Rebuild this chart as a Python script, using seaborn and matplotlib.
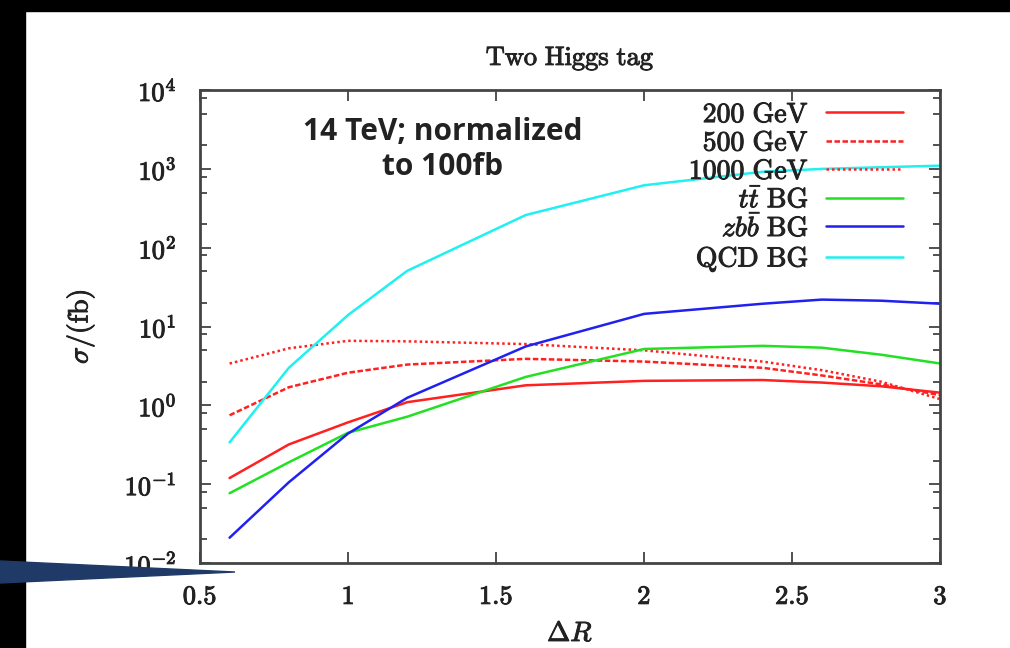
import numpy as np
import pandas as pd
import seaborn as sns
import matplotlib.pyplot as plt
import matplotlib.patheffects as pe
from matplotlib.patches import Rectangle, Polygon
from matplotlib.ticker import LogLocator, NullFormatter

delta_r = [0.6, 0.8, 1.0, 1.2, 1.6, 2.0, 2.4, 2.6, 2.8, 3.0]

sig_200 = [0.12, 0.32, 0.61, 1.1, 1.8, 2.05, 2.1, 1.95, 1.75, 1.45]
sig_500 = [0.75, 1.7, 2.6, 3.3, 3.9, 3.6, 3.0, 2.4, 1.85, 1.35]
sig_1000 = [3.4, 5.3, 6.6, 6.5, 6.0, 5.0, 3.6, 2.8, 2.0, 1.2]
sig_tt = [0.077, 0.19, 0.45, 0.72, 2.3, 5.2, 5.7, 5.4, 4.4, 3.4]
sig_zbb = [0.021, 0.106, 0.44, 1.25, 5.6, 14.5, 19.5, 22.0, 21.3, 19.5]
sig_qcd = [0.34, 3.0, 14.0, 51.0, 260.0, 620.0, 920.0, 1000.0, 1050.0, 1100.0]

labels = [r'$\mathrm{200\ GeV}$', r'$\mathrm{500\ GeV}$', r'$\mathrm{1000\ GeV}$',
          r'$t\bar{t}\ \mathrm{BG}$', r'$zb\bar{b}\ \mathrm{BG}$', r'$\mathrm{QCD\ BG}$']
colors = ['#ff2020', '#ff2020', '#ff2020', '#22e022', '#2020f0', '#20f0f0']
styles = ['-', (0, (2.2, 1.0)), (0, (1, 1.2)), '-', '-', '-']

xtick_vals = [0.5, 1, 1.5, 2, 2.5, 3]
xtick_text = ['0.5', '1', '1.5', '2', '2.5', '3']
ytick_vals = [1e-2, 1e-1, 1, 10, 100, 1e3, 1e4]
ytick_text = [r'$10^{-2}$', r'$10^{-1}$', r'$10^{0}$', r'$10^{1}$',
              r'$10^{2}$', r'$10^{3}$', r'$10^{4}$']

sns.set_style('ticks')
plt.rcParams['font.family'] = ['DejaVu Serif']
plt.rcParams['mathtext.fontset'] = 'cm'

bold = [pe.withStroke(linewidth=0.7, foreground='#222222')]

fig = plt.figure(figsize=(10.1, 6.48), dpi=100)
ax = fig.add_axes([0.198, 0.131, 0.733, 0.730])

series = [sig_200, sig_500, sig_1000, sig_tt, sig_zbb, sig_qcd]
for vals, lab, col, ls in zip(series, labels, colors, styles):
    sns.lineplot(x=delta_r, y=vals, ax=ax, color=col, linestyle=ls,
                 linewidth=1.8, label=lab)

ax.set_yscale('log')
ax.set_xlim(0.5, 3.0)
ax.set_ylim(1e-2, 1e4)
ax.set_xticks(xtick_vals)
ax.set_xticklabels([r'$\mathrm{%s}$' % t for t in xtick_text])
ax.yaxis.set_minor_locator(LogLocator(base=10, subs=(2, 5, 8), numticks=10))
ax.yaxis.set_minor_formatter(NullFormatter())
ax.set_yticks(ytick_vals)
ax.set_yticklabels(ytick_text)
ax.tick_params(which='both', direction='in', top=True, right=True,
               labelsize=19, color='#333333', width=1.2, labelcolor='#222222')
ax.tick_params(which='major', length=8)
ax.tick_params(axis='x', which='major', pad=15)
ax.tick_params(axis='y', which='major', pad=17)
ax.tick_params(which='minor', length=5)
for t in ax.get_xticklabels() + ax.get_yticklabels():
    t.set_path_effects(bold)
for sp in ax.spines.values():
    sp.set_linewidth(2)
    sp.set_color('#444444')

ax.set_title(r'$\mathrm{Two\ Higgs\ tag}$', fontsize=19, pad=18,
             color='#222222', path_effects=bold)
ax.set_xlabel(r'$\Delta R$', fontsize=20, labelpad=8, color='#222222',
              path_effects=bold)
ax.set_ylabel(r'$\sigma/(\mathrm{fb})$', fontsize=20, labelpad=20,
              color='#222222', path_effects=bold)

leg = ax.legend(loc='upper right', frameon=False, markerfirst=False,
                fontsize=20, handlelength=2.8, labelspacing=0.05,
                borderaxespad=0.1, borderpad=0.3, handletextpad=0.6,
                bbox_to_anchor=(0.965, 1.0))
for t in leg.get_texts():
    t.set_color('#222222')
    t.set_path_effects(bold)

ax.text(0.328, 0.875, '14 TeV; normalized\nto 100fb', transform=ax.transAxes,
        ha='center', va='center', fontsize=21.5, fontweight='bold',
        family=['Open Sans', 'DejaVu Sans'], color='#222222', linespacing=1.2)

# frame of the screenshot
fig.patches.append(Rectangle((0, 1 - 11 / 648), 1, 11 / 648, transform=fig.transFigure,
                             color='black', zorder=5))
fig.patches.append(Rectangle((0, 0), 25 / 1010, 1, transform=fig.transFigure,
                             color='black', zorder=5))
fig.patches.append(Polygon([(0, 1 - 561 / 648), (235 / 1010, 1 - 572 / 648),
                            (0, 1 - 583 / 648)], closed=True,
                           transform=fig.transFigure, color='#1f3a66', zorder=6))

fig.savefig('out.png', dpi=100)
